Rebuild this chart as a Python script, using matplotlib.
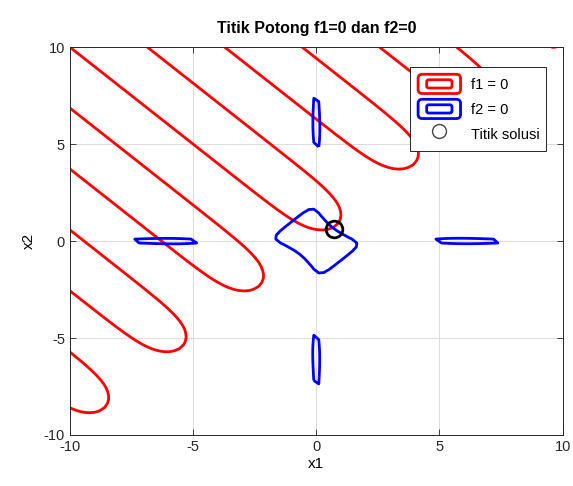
import numpy as np
import matplotlib
matplotlib.use('Agg')
import matplotlib.pyplot as plt
from matplotlib.patches import Patch, FancyBboxPatch
from matplotlib.lines import Line2D
from matplotlib.legend_handler import HandlerBase

plt.rcParams['font.family'] = ['Liberation Sans', 'DejaVu Sans']
plt.rcParams['axes.unicode_minus'] = False

# sistem persamaan (dibaca dari kurva):
#   f1 = exp(x1 - x2) - sin(x1 + x2)
#   f2 = x1^2 * x2^2 - cos(x1 + x2)
x_range = [-10, 10]
y_range = [-10, 10]
n_grid = 100
ticks = [-10, -5, 0, 5, 10]
solusi = [0.70, 0.62]
labels = ['f1 = 0', 'f2 = 0', 'Titik solusi']


def f1(x1, x2):
    return np.exp(x1 - x2) - np.sin(x1 + x2)


def f2(x1, x2):
    return x1**2 * x2**2 - np.cos(x1 + x2)


class RectIcon(HandlerBase):
    # ikon legend seperti contour di MATLAB (dua kotak bulat)
    def create_artists(self, legend, orig_handle, xdescent, ydescent,
                       width, height, fontsize, trans):
        c = orig_handle.get_edgecolor()
        x0, y0 = -xdescent, -ydescent
        outer = FancyBboxPatch((x0 + 1, y0 + 0.5), width - 2, height - 1,
                               boxstyle='round,pad=0,rounding_size=3',
                               fc='none', ec=c, lw=2, transform=trans)
        inner = FancyBboxPatch((x0 + width * 0.22, y0 + height * 0.3),
                               width * 0.56, height * 0.4,
                               boxstyle='round,pad=0,rounding_size=1.5',
                               fc='none', ec=c, lw=2, transform=trans)
        return [outer, inner]


x1 = np.linspace(x_range[0], x_range[1], n_grid)
x2 = np.linspace(y_range[0], y_range[1], n_grid)
X1, X2 = np.meshgrid(x1, x2)

fig = plt.figure(figsize=(5.73, 4.86), dpi=100)
ax = fig.add_axes([0.122, 0.105, 0.86, 0.798])

ax.contour(X1, X2, f1(X1, X2), levels=[0], colors=[(1, 0, 0)], linewidths=2)
ax.contour(X1, X2, f2(X1, X2), levels=[0], colors=[(0, 0, 1)], linewidths=2)
ax.plot(solusi[0], solusi[1], 'o', color='k', mfc='none', ms=12, mew=2)

ax.set_xlim(x_range)
ax.set_ylim(y_range)
ax.set_xticks(ticks)
ax.set_yticks(ticks)
ax.grid(True, color='#dcdcdc', linewidth=0.7)
ax.set_axisbelow(True)
ax.tick_params(direction='in', top=True, right=True, labelsize=10.5,
               colors='#262626', length=4, width=0.6)
for sp in ax.spines.values():
    sp.set_color('#262626')
    sp.set_linewidth(0.7)

ax.set_title('Titik Potong f1=0 dan f2=0', fontsize=11.5, fontweight='bold', pad=10)
ax.set_xlabel('x1', fontsize=11, labelpad=2)
ax.set_ylabel('x2', fontsize=11, labelpad=6)

h1 = Patch(edgecolor=(1, 0, 0), facecolor='none')
h2 = Patch(edgecolor=(0, 0, 1), facecolor='none')
h3 = Line2D([], [], marker='o', color='#444444', mfc='none', ms=10, mew=1, ls='none')
leg = ax.legend([h1, h2, h3], labels, loc='upper right', bbox_to_anchor=(0.975, 0.96),
                handler_map={Patch: RectIcon()}, fontsize=10.5, handlelength=3.1,
                handleheight=1.8, handletextpad=0.6, labelspacing=0.3,
                borderpad=0.45, borderaxespad=0.3, fancybox=False, framealpha=1,
                edgecolor='#262626')
leg.get_frame().set_linewidth(0.7)

fig.savefig('out.png', dpi=100)
